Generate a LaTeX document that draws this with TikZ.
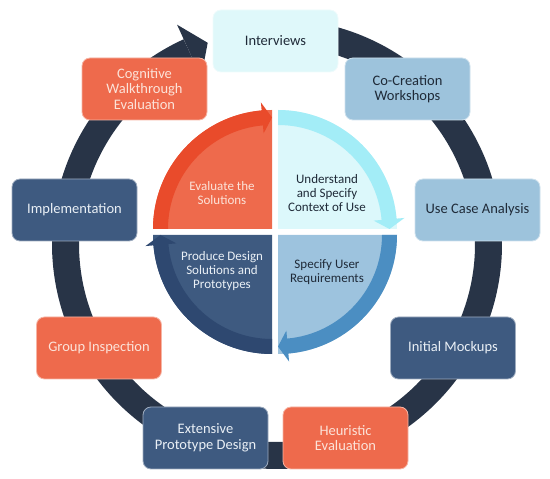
\documentclass[tikz,border=0pt]{standalone}
\usepackage{fontspec}
\setmainfont{Carlito}
\usetikzlibrary{calc}
\definecolor{ringcol}{HTML}{283447}
\definecolor{bxcyan}{HTML}{DFF8FA}
\definecolor{bxlblue}{HTML}{9DC3DC}
\definecolor{bxdblue}{HTML}{3E5A80}
\definecolor{bxorange}{HTML}{EE6A4C}
\definecolor{qorange}{HTML}{EE6A4C}
\definecolor{aorange}{HTML}{E94B2B}
\definecolor{qcyan}{HTML}{DCF8FB}
\definecolor{acyan}{HTML}{A3EDF7}
\definecolor{qlblue}{HTML}{9DC3DE}
\definecolor{alblue}{HTML}{4B8EC2}
\definecolor{qdblue}{HTML}{3E5A80}
\definecolor{adblue}{HTML}{2E4870}
\definecolor{txtdark}{HTML}{1F2A38}
\definecolor{txtlight}{HTML}{EAF0F6}
\definecolor{txtpeach}{HTML}{FCE3D9}
\newcommand\myquad[5]{% #1,#2 corner; #3 start angle; #4 fill; #5 arrow
  \begin{scope}[shift={(#1,#2)}]
    \pgfmathsetmacro\qe{#3-90}
    \pgfmathsetmacro\qh{#3-85}
    \fill[#4] (0,0) -- (#3:119pt) arc[start angle=#3, end angle=\qe, radius=119pt] -- cycle;
    \fill[#5] (#3:119pt) arc[start angle=#3, end angle=\qh, radius=119pt]
      -- (\qh:127pt) -- (\qe:111.5pt) -- (\qh:96pt) -- (\qh:104pt)
      arc[start angle=\qh, end angle=#3, radius=104pt] -- cycle;
  \end{scope}}
\begin{document}
\begin{tikzpicture}[x=1pt,y=1pt,
  box/.style={rounded corners=8pt, minimum width=125pt, minimum height=62pt,
    inner sep=2pt, align=center, font=\fontsize{14.5}{15.5}\selectfont, line width=0.8pt},
  cyanbox/.style={box, fill=bxcyan, draw=white!50!bxcyan, text=txtdark},
  lbluebox/.style={box, fill=bxlblue, draw=white!50!bxlblue, text=txtdark},
  dbluebox/.style={box, fill=bxdblue, draw=white!50!bxdblue, text=txtlight},
  orangebox/.style={box, fill=bxorange, draw=white!50!bxorange, text=txtpeach},
  qtext/.style={align=center, font=\fontsize{13}{14}\selectfont, inner sep=0pt}]
\useasboundingbox (0,0) rectangle (550,479);
% outer ring
\coordinate (rc) at (277,235);
\draw[line width=27pt, ringcol] ($(rc)+(95:211.5pt)$) arc[start angle=95, end angle=-245.5, radius=211.5pt];
\fill[ringcol] ($(rc)+(114.5:241pt)$) -- ($(rc)+(109.0:212.8pt)$) -- ($(rc)+(114.5:183pt)$) -- cycle;
% inner quadrants
\myquad{272}{250}{180}{qorange}{aorange}
\myquad{278}{250}{90}{qcyan}{acyan}
\myquad{278}{244}{0}{qlblue}{alblue}
\myquad{272}{244}{-90}{qdblue}{adblue}
\node[qtext, text=txtpeach] (evaluate) at (222,286) {Evaluate the\\Solutions};
\node[qtext, text=txtdark] (understand) at (327,286) {Understand\\and Specify\\Context of Use};
\node[qtext, text=txtdark] (specify) at (327,207) {Specify User\\Requirements};
\node[qtext, text=txtlight] (produce) at (222,208) {Produce Design\\Solutions and\\Prototypes};
% boxes
\node[cyanbox] (interviews) at (275.5,438) {Interviews};
\node[lbluebox] (cocreation) at (407.5,390) {Co-Creation\\Workshops};
\node[lbluebox] (usecase) at (477.5,269) {Use Case Analysis};
\node[dbluebox] (mockups) at (453,131) {Initial Mockups};
\node[orangebox] (heuristic) at (345.5,41) {Heuristic\\Evaluation};
\node[dbluebox] (extensive) at (205.5,41) {Extensive\\Prototype Design};
\node[orangebox] (group) at (99,131) {Group Inspection};
\node[dbluebox] (implementation) at (74.5,269) {Implementation};
\node[orangebox] (cognitive) at (144.5,390) {Cognitive\\Walkthrough\\Evaluation};
\end{tikzpicture}
\end{document}
